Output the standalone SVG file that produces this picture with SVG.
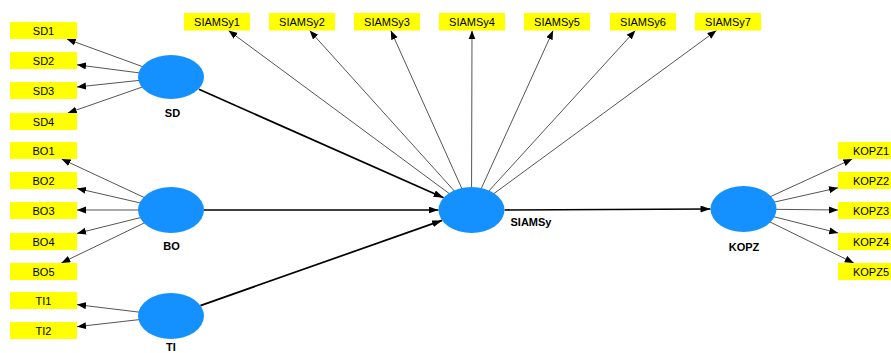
<svg xmlns="http://www.w3.org/2000/svg" width="891" height="353" viewBox="0 0 891 353">
<style>
.ind rect{fill:#ffff00}
.ind text{font-family:"Liberation Sans",Arial,sans-serif;font-size:11px;fill:#000;text-anchor:middle}
.lat ellipse{fill:#1591ff}
.lat text{font-family:"Liberation Sans",Arial,sans-serif;font-size:11px;font-weight:bold;fill:#000;text-anchor:middle}
.load{stroke:#555;stroke-width:1;fill:none;marker-end:url(#ah)}
.path{stroke:#000;stroke-width:1.7;fill:none;marker-end:url(#ahb)}
</style>
<defs>
<marker id="ah" markerUnits="userSpaceOnUse" markerWidth="10" markerHeight="8" refX="9" refY="3.5" orient="auto">
<path d="M0,0 L9,3.5 L0,7 Z" fill="#000"/>
</marker>
<marker id="ahb" markerUnits="userSpaceOnUse" markerWidth="11" markerHeight="8" refX="10" refY="3.5" orient="auto">
<path d="M0,0 L10,3.5 L0,7 Z" fill="#000"/>
</marker>
</defs>
<rect width="891" height="353" fill="#fff"/>
<g id="connectors">
<line class="load" x1="171" y1="77" x2="66.8" y2="39"/>
<line class="load" x1="171" y1="77" x2="77" y2="64.8"/>
<line class="load" x1="171" y1="77" x2="77" y2="87"/>
<line class="load" x1="171" y1="77" x2="67.8" y2="113"/>
<line class="load" x1="171" y1="210" x2="61.6" y2="159"/>
<line class="load" x1="171" y1="210" x2="77" y2="188.4"/>
<line class="load" x1="171" y1="210" x2="77" y2="210"/>
<line class="load" x1="171" y1="210" x2="77" y2="233.4"/>
<line class="load" x1="171" y1="210" x2="61.3" y2="263"/>
<line class="load" x1="171" y1="316" x2="77" y2="304.6"/>
<line class="load" x1="171" y1="316" x2="77" y2="326.7"/>
<line class="load" x1="471.5" y1="210" x2="228.5" y2="30.5"/>
<line class="load" x1="471.5" y1="210" x2="309.6" y2="30.5"/>
<line class="load" x1="471.5" y1="210" x2="390.8" y2="30.5"/>
<line class="load" x1="471.5" y1="210" x2="472" y2="30.5"/>
<line class="load" x1="471.5" y1="210" x2="553.1" y2="30.5"/>
<line class="load" x1="471.5" y1="210" x2="635.3" y2="30.5"/>
<line class="load" x1="471.5" y1="210" x2="716.4" y2="30.5"/>
<line class="load" x1="743.5" y1="209" x2="852.3" y2="159"/>
<line class="load" x1="743.5" y1="209" x2="838" y2="187.8"/>
<line class="load" x1="743.5" y1="209" x2="838" y2="210"/>
<line class="load" x1="743.5" y1="209" x2="838.2" y2="233"/>
<line class="load" x1="743.5" y1="209" x2="853.8" y2="263"/>
<line class="path" x1="198.9" y1="89.3" x2="443.6" y2="197.7"/>
<line class="path" x1="204" y1="210" x2="438.5" y2="210"/>
<line class="path" x1="200.4" y1="305.6" x2="442.1" y2="220.4"/>
<line class="path" x1="504.5" y1="210" x2="710.5" y2="209"/>
</g>
<g id="SD1" class="ind"><rect x="10" y="22" width="67" height="17"/><text x="43.5" y="34.5">SD1</text></g>
<g id="SD2" class="ind"><rect x="10" y="52" width="67" height="17"/><text x="43.5" y="64.5">SD2</text></g>
<g id="SD3" class="ind"><rect x="10" y="82" width="67" height="17"/><text x="43.5" y="94.5">SD3</text></g>
<g id="SD4" class="ind"><rect x="10" y="113" width="67" height="17"/><text x="43.5" y="125.5">SD4</text></g>
<g id="BO1" class="ind"><rect x="10" y="142" width="67" height="17"/><text x="43.5" y="154.5">BO1</text></g>
<g id="BO2" class="ind"><rect x="10" y="172" width="67" height="17"/><text x="43.5" y="184.5">BO2</text></g>
<g id="BO3" class="ind"><rect x="10" y="202" width="67" height="17"/><text x="43.5" y="214.5">BO3</text></g>
<g id="BO4" class="ind"><rect x="10" y="233" width="67" height="17"/><text x="43.5" y="245.5">BO4</text></g>
<g id="BO5" class="ind"><rect x="10" y="263" width="67" height="17"/><text x="43.5" y="275.5">BO5</text></g>
<g id="TI1" class="ind"><rect x="10" y="292" width="67" height="17"/><text x="43.5" y="304.5">TI1</text></g>
<g id="TI2" class="ind"><rect x="10" y="322" width="67" height="17"/><text x="43.5" y="334.5">TI2</text></g>
<g id="SIAMSy1" class="ind"><rect x="184" y="13" width="66" height="17.5"/><text x="217" y="25.5">SIAMSy1</text></g>
<g id="SIAMSy2" class="ind"><rect x="269" y="13" width="66" height="17.5"/><text x="302" y="25.5">SIAMSy2</text></g>
<g id="SIAMSy3" class="ind"><rect x="354" y="13" width="66" height="17.5"/><text x="387" y="25.5">SIAMSy3</text></g>
<g id="SIAMSy4" class="ind"><rect x="439" y="13" width="66" height="17.5"/><text x="472" y="25.5">SIAMSy4</text></g>
<g id="SIAMSy5" class="ind"><rect x="524" y="13" width="66" height="17.5"/><text x="557" y="25.5">SIAMSy5</text></g>
<g id="SIAMSy6" class="ind"><rect x="610" y="13" width="66" height="17.5"/><text x="643" y="25.5">SIAMSy6</text></g>
<g id="SIAMSy7" class="ind"><rect x="695" y="13" width="66" height="17.5"/><text x="728" y="25.5">SIAMSy7</text></g>
<g id="KOPZ1" class="ind"><rect x="838" y="142" width="66" height="17"/><text x="871" y="154.5">KOPZ1</text></g>
<g id="KOPZ2" class="ind"><rect x="838" y="172" width="66" height="17"/><text x="871" y="184.5">KOPZ2</text></g>
<g id="KOPZ3" class="ind"><rect x="838" y="202" width="66" height="17"/><text x="871" y="214.5">KOPZ3</text></g>
<g id="KOPZ4" class="ind"><rect x="838" y="233" width="66" height="17"/><text x="871" y="245.5">KOPZ4</text></g>
<g id="KOPZ5" class="ind"><rect x="838" y="263" width="66" height="17"/><text x="871" y="275.5">KOPZ5</text></g>
<g id="SD" class="lat"><ellipse cx="171" cy="77" rx="33" ry="22"/><text x="172.5" y="117">SD</text></g>
<g id="BO" class="lat"><ellipse cx="171" cy="210" rx="33" ry="23"/><text x="171.5" y="250">BO</text></g>
<g id="TI" class="lat"><ellipse cx="171" cy="316" rx="33" ry="23"/><text x="171" y="351">TI</text></g>
<g id="SIAMSy" class="lat"><ellipse cx="471.5" cy="210" rx="33" ry="23"/><text x="531" y="226">SIAMSy</text></g>
<g id="KOPZ" class="lat"><ellipse cx="743.5" cy="209" rx="33" ry="23"/><text x="744" y="251">KOPZ</text></g>
</svg>
